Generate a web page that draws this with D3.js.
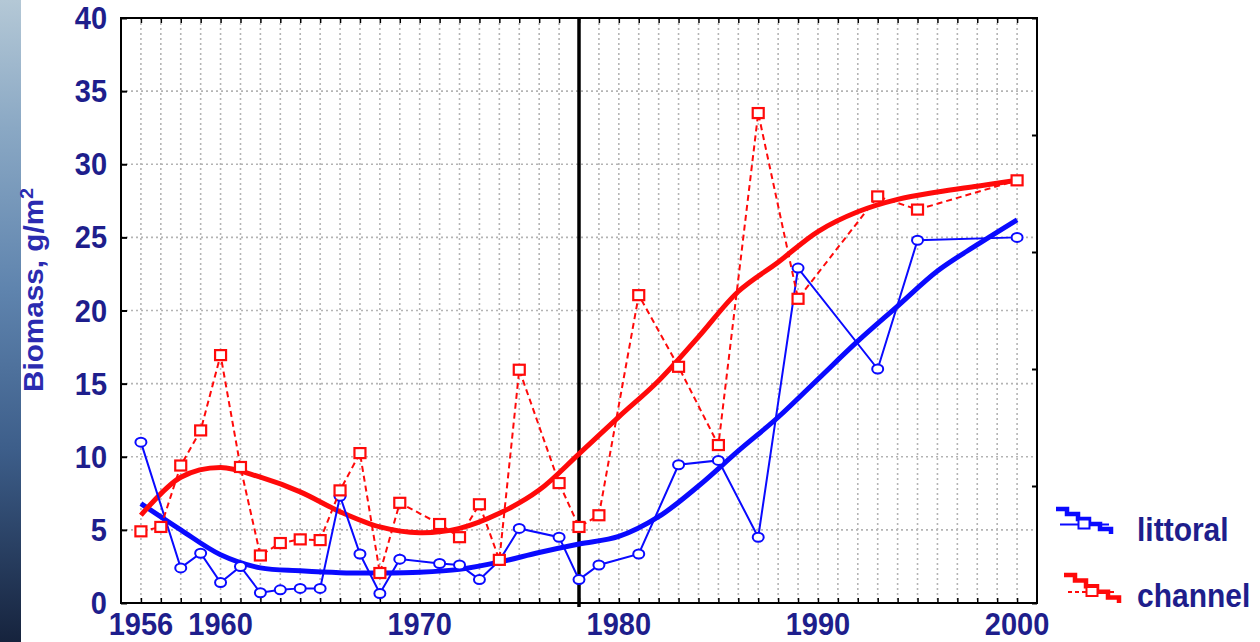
<!DOCTYPE html>
<html>
<head>
<meta charset="utf-8">
<script src="https://cdn.jsdelivr.net/npm/d3@7"></script>
<style>
  body { margin: 0; background: #fff; }
  svg { display: block; }
  text { font-family: "Liberation Sans", Arial, sans-serif; font-weight: bold; }
</style>
</head>
<body>
<div id="chart"></div>
<script>
// littoral samples (blue, circles)
var litYears = [1956, 1958, 1959, 1960, 1961, 1962, 1963, 1964, 1965, 1966, 1967, 1968, 1969,
    1971, 1972, 1973, 1974, 1975, 1977, 1978, 1979, 1981, 1983, 1985, 1987, 1989, 1993, 1995, 2000];
var litValues = [11.0, 2.4, 3.4, 1.4, 2.5, 0.7, 0.9, 1.0, 1.0, 7.3, 3.35, 0.65, 3.0,
    2.7, 2.6, 1.6, 2.9, 5.1, 4.5, 1.6, 2.6, 3.35, 9.45, 9.75, 4.5, 22.9, 16.0, 24.8, 25.0];

// channel samples (red, squares)
var chanYears = [1956, 1957, 1958, 1959, 1960, 1961, 1962, 1963, 1964, 1965, 1966, 1967, 1968, 1969,
    1971, 1972, 1973, 1974, 1975, 1977, 1978, 1979, 1981, 1983, 1985, 1987, 1989, 1993, 1995, 2000];
var chanValues = [4.9, 5.2, 9.4, 11.8, 16.95, 9.3, 3.25, 4.1, 4.35, 4.3, 7.7, 10.25, 2.05, 6.85,
    5.4, 4.5, 6.75, 2.95, 15.95, 8.2, 5.2, 6.0, 21.05, 16.15, 10.8, 33.5, 20.8, 27.8, 26.9, 28.9];

// smoothed trends, read every 2 years
var trendYears = [1956, 1958, 1960, 1962, 1964, 1966, 1968, 1970, 1972, 1974, 1976, 1978,
    1980, 1982, 1984, 1986, 1988, 1990, 1992, 1994, 1996, 1998, 2000];
var litTrend = [6.8, 5.0, 3.3, 2.4, 2.2, 2.07, 2.05, 2.1, 2.3, 2.8, 3.45, 4.03,
    4.55, 5.9, 8.0, 10.4, 12.7, 15.3, 17.9, 20.3, 22.7, 24.5, 26.2];
var chanTrend = [6.0, 8.6, 9.27, 8.6, 7.6, 6.24, 5.2, 4.8, 5.1, 6.13, 7.72, 10.2,
    12.73, 15.2, 18.2, 21.3, 23.3, 25.4, 26.75, 27.6, 28.1, 28.5, 28.9];

var xTickLabels = [1956, 1960, 1970, 1980, 1990, 2000];
var yTickLabels = [0, 5, 10, 15, 20, 25, 30, 35, 40];
var breakYear = 1978;
var seriesNames = ["littoral", "channel"];

var W = 1260, H = 642;
var margin = { top: 18, right: 223, bottom: 39, left: 121 },
    width = W - margin.left - margin.right,
    height = H - margin.top - margin.bottom;

var navy = "#1e1e8c";
var blue = "#0a0aff";
var red = "#ff0a0a";

var root = d3.select("#chart")
    .append("svg")
    .attr("width", W)
    .attr("height", H);

// ocean strip on the left edge
var defs = root.append("defs");
var grad = defs.append("linearGradient")
    .attr("id", "sea")
    .attr("x1", 0).attr("y1", 0).attr("x2", 0).attr("y2", 1);
[["0%", "#b4c8d6"], ["20%", "#8aa8c4"], ["45%", "#5f84ae"], ["70%", "#3d5e8a"], ["100%", "#16233d"]]
    .forEach(function(s) {
        grad.append("stop").attr("offset", s[0]).attr("stop-color", s[1]);
    });
root.append("rect")
    .attr("x", 0).attr("y", 0)
    .attr("width", 21).attr("height", H)
    .attr("fill", "url(#sea)");

var svg = root.append("g")
    .attr("transform", "translate(" + margin.left + "," + margin.top + ")");

var x = d3.scaleLinear().domain([1955, 2001]).range([0, width]);
var y = d3.scaleLinear().domain([0, 40]).range([height, 0]);
// right frame carries its own coarser ticks
var y2 = d3.scaleLinear().domain([0, 5]).range([height, 0]);

// grid
var years = d3.range(1956, 2001);
svg.append("g")
    .selectAll("line")
    .data(years)
    .enter()
    .append("line")
    .attr("x1", function(d) { return x(d); })
    .attr("x2", function(d) { return x(d); })
    .attr("y1", 0)
    .attr("y2", height)
    .attr("stroke", "#b4b4b4")
    .attr("stroke-width", 1.6)
    .attr("stroke-dasharray", "2,3");

svg.append("g")
    .selectAll("line")
    .data(yTickLabels.slice(1, -1))
    .enter()
    .append("line")
    .attr("x1", 0)
    .attr("x2", width)
    .attr("y1", function(d) { return y(d); })
    .attr("y2", function(d) { return y(d); })
    .attr("stroke", "#b4b4b4")
    .attr("stroke-width", 1.6)
    .attr("stroke-dasharray", "2,3");

// frame ticks
svg.append("g")
    .call(d3.axisBottom(x).tickValues(years).tickSize(-5).tickFormat(""))
    .attr("transform", "translate(0," + height + ")")
    .call(function(g) { g.select(".domain").remove(); })
    .selectAll("line").attr("stroke", "#000").attr("stroke-width", 1.5);
svg.append("g")
    .call(d3.axisTop(x).tickValues(years).tickSize(-5).tickFormat(""))
    .call(function(g) { g.select(".domain").remove(); })
    .selectAll("line").attr("stroke", "#000").attr("stroke-width", 1.5);
svg.append("g")
    .call(d3.axisLeft(y).tickValues(yTickLabels).tickSize(-6).tickFormat(""))
    .call(function(g) { g.select(".domain").remove(); })
    .selectAll("line").attr("stroke", "#000").attr("stroke-width", 2);
svg.append("g")
    .attr("transform", "translate(" + width + ",0)")
    .call(d3.axisRight(y2).ticks(5).tickSize(-5).tickFormat(""))
    .call(function(g) { g.select(".domain").remove(); })
    .selectAll("line").attr("stroke", "#000").attr("stroke-width", 2);

// frame
svg.append("rect")
    .attr("width", width)
    .attr("height", height)
    .attr("fill", "none")
    .attr("stroke", "#000")
    .attr("stroke-width", 2);

// 1978 break line
svg.append("line")
    .attr("x1", x(breakYear)).attr("x2", x(breakYear))
    .attr("y1", 0).attr("y2", height + 4)
    .attr("stroke", "#000")
    .attr("stroke-width", 3.5);

// tick labels (the source is a little stretched vertically)
svg.append("g")
    .selectAll("text")
    .data(xTickLabels)
    .enter()
    .append("text")
    .attr("transform", function(d) { return "translate(" + x(d) + "," + (height + 32) + ") scale(1,1.05)"; })
    .attr("text-anchor", "middle")
    .attr("fill", navy)
    .style("font-size", "29px")
    .text(function(d) { return d; });

svg.append("g")
    .selectAll("text")
    .data(yTickLabels)
    .enter()
    .append("text")
    .attr("transform", function(d) { return "translate(-14," + (y(d) + 11) + ") scale(1,1.1)"; })
    .attr("text-anchor", "end")
    .attr("fill", navy)
    .style("font-size", "29px")
    .text(function(d) { return d; });

// y axis title
var yt = root.append("text")
    .attr("transform", "translate(43," + (margin.top + 272) + ") rotate(-90) scale(1.1,1)")
    .attr("text-anchor", "middle")
    .attr("fill", "#2b2bb0")
    .style("font-size", "27px");
yt.append("tspan").text("Biomass, g/m");
yt.append("tspan").attr("dy", -10).style("font-size", "18px").text("2");

// trends
var trendLine = d3.line()
    .x(function(d) { return x(d[0]); })
    .y(function(d) { return y(d[1]); })
    .curve(d3.curveCatmullRom);

svg.append("path")
    .datum(d3.zip(trendYears, litTrend))
    .attr("d", trendLine)
    .attr("fill", "none")
    .attr("stroke", blue)
    .attr("stroke-width", 5);

svg.append("path")
    .datum(d3.zip(trendYears, chanTrend))
    .attr("d", trendLine)
    .attr("fill", "none")
    .attr("stroke", red)
    .attr("stroke-width", 5);

// raw series
var rawLine = d3.line()
    .x(function(d) { return x(d[0]); })
    .y(function(d) { return y(d[1]); });

var lit = d3.zip(litYears, litValues);
var chan = d3.zip(chanYears, chanValues);

svg.append("path")
    .datum(lit)
    .attr("d", rawLine)
    .attr("fill", "none")
    .attr("stroke", blue)
    .attr("stroke-width", 2);

svg.append("g")
    .selectAll("ellipse")
    .data(lit)
    .enter()
    .append("ellipse")
    .attr("cx", function(d) { return x(d[0]); })
    .attr("cy", function(d) { return y(d[1]); })
    .attr("rx", 5.5)
    .attr("ry", 4.5)
    .attr("fill", "#fff")
    .attr("stroke", blue)
    .attr("stroke-width", 2);

svg.append("path")
    .datum(chan)
    .attr("d", rawLine)
    .attr("fill", "none")
    .attr("stroke", red)
    .attr("stroke-width", 2)
    .attr("stroke-dasharray", "6,4");

svg.append("g")
    .selectAll("rect")
    .data(chan)
    .enter()
    .append("rect")
    .attr("x", function(d) { return x(d[0]) - 5.5; })
    .attr("y", function(d) { return y(d[1]) - 5; })
    .attr("width", 11)
    .attr("height", 10)
    .attr("fill", "#fff")
    .attr("stroke", red)
    .attr("stroke-width", 2.2);

// legend: stepped thick stroke, thin stroke and marker, as in the source
var legend = root.append("g");
var items = [
    { name: seriesNames[0], color: blue, dash: null, x0: 1056, y0: 509, x1: 1111, y1: 534, ty: 541 },
    { name: seriesNames[1], color: red, dash: "4,3", x0: 1064, y0: 575, x1: 1119, y1: 603, ty: 607 }
];
items.forEach(function(it) {
    var g = legend.append("g");
    var n = 5, dx = (it.x1 - it.x0) / n, dy = (it.y1 - it.y0) / n, d = "M" + it.x0 + "," + it.y0;
    for (var i = 1; i <= n; i++) {
        d += "L" + (it.x0 + dx * i) + "," + (it.y0 + dy * (i - 1)) + "L" + (it.x0 + dx * i) + "," + (it.y0 + dy * i);
    }
    g.append("path")
        .attr("d", d)
        .attr("fill", "none")
        .attr("stroke", it.color)
        .attr("stroke-width", 4.5);
    var cy = (it.y0 + it.y1) / 2;
    g.append("line")
        .attr("x1", it.x0 + 4).attr("x2", it.x1 - 2)
        .attr("y1", cy + 3).attr("y2", cy + 3)
        .attr("stroke", it.color)
        .attr("stroke-width", 2)
        .attr("stroke-dasharray", it.dash);
    g.append("rect")
        .attr("x", (it.x0 + it.x1) / 2 - 5)
        .attr("y", cy - 2)
        .attr("width", 11).attr("height", 9)
        .attr("fill", "#fff")
        .attr("stroke", it.color)
        .attr("stroke-width", 2);
    g.append("text")
        .attr("transform", "translate(1137," + it.ty + ") scale(1,1.1)")
        .attr("fill", navy)
        .style("font-size", "30px")
        .text(it.name);
});
</script>
</body>
</html>
